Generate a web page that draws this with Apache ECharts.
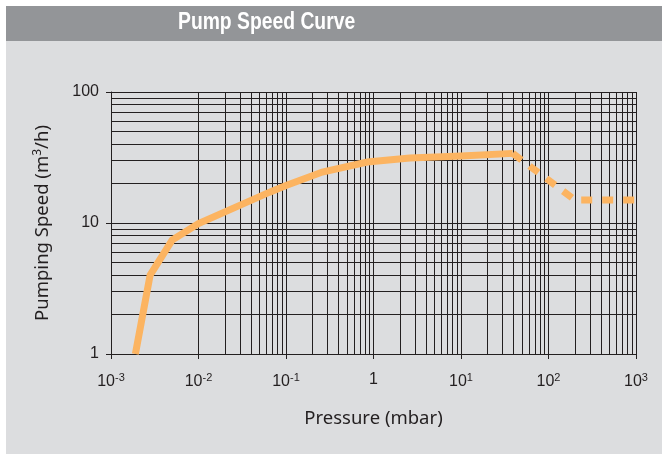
<!DOCTYPE html>
<html>
<head>
<meta charset="utf-8">
<script src="https://cdn.jsdelivr.net/npm/echarts@6/dist/echarts.min.js"></script>
<style>html,body{margin:0;padding:0;background:#fff;}#c{width:662px;height:454px;}</style>
</head>
<body>
<div id="c"></div>
<script>
// Data (pressure in mbar, pumping speed in m3/h)
const solidPressure = [0.0019, 0.0028, 0.005, 0.01, 0.03, 0.065, 0.1, 0.26, 0.85, 2.6, 10, 39];
const solidSpeed    = [1, 4, 7.4, 9.9, 13.7, 17.2, 19.3, 24.5, 29.2, 31.3, 32.5, 34];
const dashedPressure = [39, 200, 1000];
const dashedSpeed    = [34, 15, 15];
const xDecades = [-3, -2, -1, 0, 1, 2];
const yDecades = [0, 1];
const minorMultiples = [1, 2, 3, 4, 5, 6, 7, 8, 9];

const solid = solidPressure.map((p, i) => [p, solidSpeed[i]]);
const dashed = dashedPressure.map((p, i) => [p, dashedSpeed[i]]);

const gridLines = [];
xDecades.forEach(d => minorMultiples.forEach(m => gridLines.push({ xAxis: m * Math.pow(10, d) })));
gridLines.push({ xAxis: 1000 });
yDecades.forEach(d => minorMultiples.forEach(m => gridLines.push({ yAxis: m * Math.pow(10, d) })));
gridLines.push({ yAxis: 100 });

function xFmt(v) {
  const e = Math.round(Math.log10(v));
  if (e === 0) return '1';
  return '10{s|' + (e < 0 ? '-' : '') + Math.abs(e) + '}';
}

const chart = echarts.init(document.getElementById('c'), null, { renderer: 'canvas' });
chart.setOption({
  animation: false,
  backgroundColor: '#ffffff',
  graphic: [
    { type: 'rect', left: 6, top: 6, shape: { width: 656, height: 448 }, style: { fill: '#dcdddf' }, z: -10 },
    { type: 'rect', left: 6, top: 6, shape: { width: 656, height: 35 }, style: { fill: '#939598' }, z: -9 },
    { type: 'text', x: 178, y: 11, scaleX: 0.84, z: 10,
      style: { text: 'Pump Speed Curve', fill: '#ffffff', font: 'bold 23px "Liberation Sans"' } }
  ],
  grid: { left: 111, right: 26, top: 92, bottom: 100 },
  xAxis: {
    type: 'log', logBase: 10, min: 0.001, max: 1000,
    name: 'Pressure (mbar)', nameLocation: 'middle', nameGap: 55,
    nameTextStyle: { fontFamily: 'Noto Sans', fontSize: 18.5, color: '#231f20' },
    axisLine: { lineStyle: { color: '#231f20', width: 1 } },
    axisTick: { show: true, length: 5, lineStyle: { color: '#231f20' } },
    splitLine: { show: false },
    axisLabel: {
      margin: 18, formatter: xFmt, color: '#231f20', fontFamily: 'Liberation Sans', fontSize: 16,
      rich: { s: { fontSize: 11, fontFamily: 'Liberation Sans', color: '#231f20', padding: [0, 0, 9, 0] } }
    }
  },
  yAxis: {
    type: 'log', logBase: 10, min: 1, max: 100,
    name: 'Pumping Speed (m{s|3}/h)', nameLocation: 'middle', nameGap: 58, nameRotate: 90,
    nameTextStyle: { fontFamily: 'Noto Sans', fontSize: 18.5, color: '#231f20',
      rich: { s: { fontFamily: 'Noto Sans', fontSize: 12, color: '#231f20', padding: [0, 0, 9, 0] } } },
    axisLine: { show: true, lineStyle: { color: '#231f20', width: 1 } },
    axisTick: { show: true, length: 5, lineStyle: { color: '#231f20' } },
    splitLine: { show: false },
    axisLabel: { margin: 12, color: '#231f20', fontFamily: 'Liberation Sans', fontSize: 16 }
  },
  series: [
    {
      type: 'line', data: [], z: 1, silent: true,
      markLine: {
        silent: true, symbol: ['none', 'none'], label: { show: false },
        lineStyle: { color: '#231f20', width: 1, type: 'solid' },
        emphasis: { disabled: true },
        data: gridLines
      }
    },
    {
      type: 'line', data: solid, z: 5, showSymbol: false, symbol: 'none',
      lineStyle: { color: '#fcb461', width: 7, cap: 'butt', join: 'miter' }
    },
    {
      type: 'line', data: dashed, z: 5, showSymbol: false, symbol: 'none',
      lineStyle: { color: '#fcb461', width: 7, type: [11, 10], cap: 'butt' }
    }
  ]
});
</script>
</body>
</html>
